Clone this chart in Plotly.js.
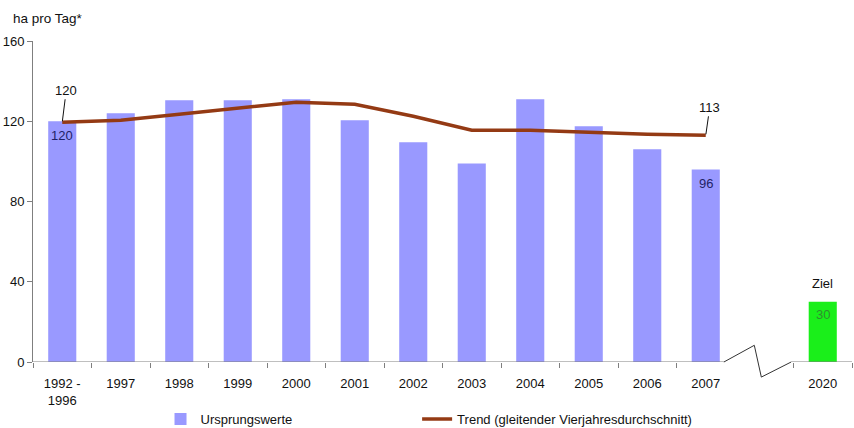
<!DOCTYPE html>
<html><head><meta charset="utf-8">
<script src="https://cdn.plot.ly/plotly-3.0.1.min.js"></script>
<style>html,body{margin:0;padding:0;background:#fff}#c{width:854px;height:428px}</style>
</head><body><div id="c"></div>
<script>
const categories = ['1992 -<br>1996','1997','1998','1999','2000','2001','2002','2003','2004','2005','2006','2007'];
const breakCategory = ' ';
const targetCategory = '2020';
const originalValues = [120,124,130.5,130.5,131,120.5,109.5,99,131,117.5,106,96];
const trendValues = [119.5,120.5,123.5,126.5,129.5,128.5,122.5,115.5,115.5,114.5,113.5,113];
const targetValue = 30;
const barLabels = ['120','','','','','','','','','','','96'];
const trendLabelFirst = '120';
const trendLabelLast = '113';
const yTicks = [0,40,80,120,160];

const allCats = categories.concat([breakCategory, targetCategory]);
const targetIdx = allCats.indexOf(targetCategory);
const font = 'Liberation Sans, Arial, sans-serif';
const axisGray = '#7f7f7f';

const traces = [
  {type:'bar', name:'Ursprungswerte', x:categories, y:originalValues, legend:'legend',
   marker:{color:'#9999ff'}, width:0.48, hoverinfo:'none'},
  {type:'bar', name:'Ziel', x:[targetCategory], y:[targetValue], showlegend:false,
   marker:{color:'#1aef1a'}, width:0.48, hoverinfo:'none'},
  {type:'scatter', mode:'lines', name:'Trend (gleitender Vierjahresdurchschnitt)', legend:'legend2',
   x:categories, y:trendValues, line:{color:'#943a14', width:3.5}, hoverinfo:'none'}
];

const last = categories.length - 1;
const legFont = {family:font,size:13,color:'#111'};

const barLabelAnns = [];
barLabels.forEach((t, i) => {
  if (t) barLabelAnns.push({x:i, y:originalValues[i], text:t, showarrow:false,
    yanchor:'middle', yshift:-14, font:{family:font,size:13,color:'#1f1f66'}});
});
barLabelAnns.push({x:targetIdx, y:targetValue, text:String(targetValue), showarrow:false,
    yanchor:'middle', yshift:-13, font:{family:font,size:13,color:'#2f8f2f'}});

const layout = {
  width:854, height:428,
  margin:{l:33, r:2, t:41, b:66, autoexpand:false},
  paper_bgcolor:'#fff', plot_bgcolor:'#fff',
  font:{family:font, size:13, color:'#111'},
  showlegend:true,
  legend:{orientation:'h', x:0.1557, xanchor:'left', y:-0.131, yanchor:'top', font:legFont, bgcolor:'rgba(0,0,0,0)'},
  legend2:{orientation:'h', x:0.469, xanchor:'left', y:-0.131, yanchor:'top', font:legFont, bgcolor:'rgba(0,0,0,0)'},
  xaxis:{type:'category', categoryorder:'array', categoryarray:allCats,
         range:[-0.5, allCats.length-0.5], fixedrange:true,
         showline:false, showgrid:false, zeroline:false,
         ticks:'outside', tickson:'boundaries', ticklen:5, tickcolor:axisGray, tickwidth:1,
         ticklabelstandoff:12,
         tickfont:{family:font,size:13,color:'#111'}},
  yaxis:{range:[0,160], tickvals:yTicks, showgrid:false, zeroline:false,
         showline:true, linecolor:axisGray, linewidth:1,
         ticks:'outside', ticklen:5, tickcolor:axisGray, ticklabelstandoff:0,
         tickfont:{family:font,size:13,color:'#111'}},
  annotations:[
    {xref:'paper', yref:'paper', x:-0.027, y:1.04, xanchor:'left', yanchor:'bottom',
     text:'ha pro Tag*', showarrow:false, font:{family:font,size:13.5,color:'#111'}},
    {x:0, y:trendValues[0], text:trendLabelFirst, showarrow:true,
     arrowhead:0, arrowwidth:1, arrowcolor:'#111', ax:4, ay:-32, standoff:1,
     font:{family:font,size:13,color:'#111'}},
    {x:last, y:trendValues[last], text:trendLabelLast, showarrow:true,
     arrowhead:0, arrowwidth:1, arrowcolor:'#111', ax:4, ay:-28, standoff:1,
     font:{family:font,size:13,color:'#111'}},
    {x:targetIdx, y:targetValue, text:'Ziel', showarrow:false, yanchor:'bottom', yshift:9,
     font:{family:font,size:13,color:'#111'}}
  ].concat(barLabelAnns),
  shapes:[
    {type:'rect', xref:'x', yref:'paper', x0:11.4, x1:11.6, y0:-0.03, y1:-0.002, line:{width:0}, fillcolor:'#fff', layer:'above'},
    {type:'line', xref:'x', yref:'y', x0:-0.5, x1:11.31, y0:0, y1:0, line:{color:axisGray,width:1}, layer:'above'},
    {type:'line', xref:'x', yref:'paper', x0:11.31, x1:11.83, y0:0, y1:0.052, line:{color:'#333',width:1}, layer:'above'},
    {type:'line', xref:'x', yref:'paper', x0:11.83, x1:11.95, y0:0.052, y1:-0.047, line:{color:'#333',width:1}, layer:'above'},
    {type:'line', xref:'x', yref:'paper', x0:11.95, x1:12.46, y0:-0.047, y1:0, line:{color:'#333',width:1}, layer:'above'},
    {type:'line', xref:'x', yref:'y', x0:12.46, x1:13.5, y0:0, y1:0, line:{color:axisGray,width:1}, layer:'above'}
  ]
};

Plotly.newPlot('c', traces, layout, {displayModeBar:false, staticPlot:true});
</script></body></html>
